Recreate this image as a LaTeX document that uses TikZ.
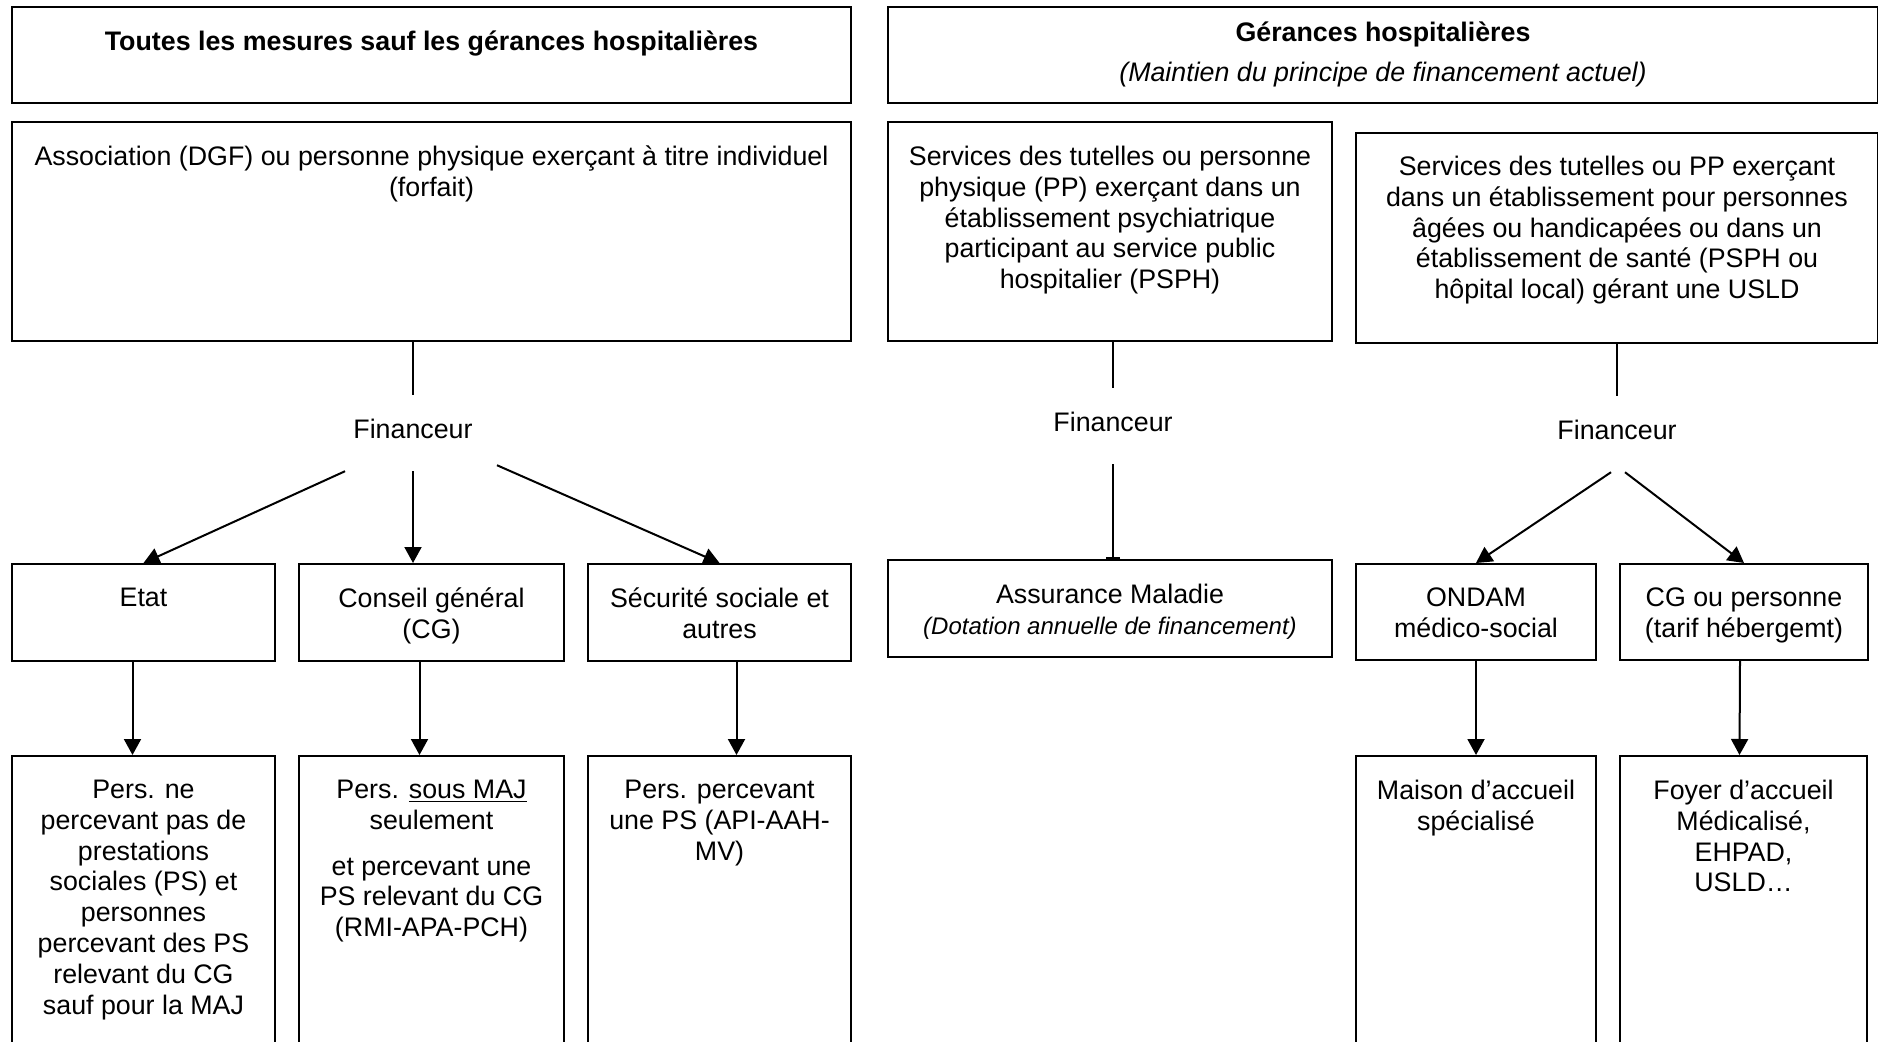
\documentclass[tikz,border=0pt]{standalone}
\usepackage{fontspec}
\setmainfont{Liberation Sans}
\usetikzlibrary{positioning,calc,arrows.meta}

% text block of a box: width, height, top padding
\newcommand{\boxtext}[4][12pt]{\parbox[c][#3][t]{#2}{\centering\vspace*{#1}#4\par}}

\tikzset{
  box/.style={draw, line width=1pt, inner sep=0pt, anchor=north west},
  fin/.style={inner xsep=4pt, inner ysep=12pt},
  link/.style={line width=1pt},
  arr/.style={line width=1pt, -{Triangle[length=8pt,width=8.5pt]}}
}

\begin{document}
\begin{tikzpicture}[x=0.5pt, y=-0.5pt, font=\fontsize{13.4}{15.4}\selectfont]
        \useasboundingbox (0,0) rectangle (1878,1042);
        \fill[white] (0,0) rectangle (1878,1042);
        \clip (0,0) rectangle (1878,1042);

        %headers
        \node[box] (hdrL) at (11,6) {\boxtext{419.5pt}{48pt}{\textbf{Toutes les mesures sauf les gérances hospitalières}}};
        \node[box] (hdrR) at (887,6) {\boxtext[7.5pt]{495pt}{48pt}{\textbf{Gérances hospitalières}\\[4.6pt]\textit{(Maintien du principe de financement actuel)}}};

        %gestionnaires
        \node[box] (assoc) at (11,121) {\boxtext{419.5pt}{109.5pt}{Association (DGF) ou personne physique exerçant à titre individuel\\(forfait)}};
        \node[box] (psph) at (887,121) {\boxtext{222pt}{109.5pt}{Services des tutelles ou personne\\physique (PP) exerçant dans un\\établissement psychiatrique\\participant au service public\\hospitalier (PSPH)}};
        \node[box] (usld) at (1355,132) {\boxtext[11.5pt]{261pt}{105pt}{Services des tutelles ou PP exerçant\\dans un établissement pour personnes\\âgées ou handicapées ou dans un\\établissement de santé (PSPH ou\\hôpital local) gérant une USLD}};

        %financeurs
        \node[fin] (finL) at (413,429) {Financeur};
        \node[fin] (finM) at (1113,422) {Financeur};
        \node[fin] (finR) at (1617,430) {Financeur};

        \node[box] (etat) at (11,563) {\boxtext{131.5pt}{48.5pt}{Etat}};
        \node[box] (cg) at (298,563) {\boxtext{132.5pt}{48.5pt}{Conseil général\\(CG)}};
        \node[box] (ss) at (587,563) {\boxtext{131.5pt}{48.5pt}{Sécurité sociale et\\autres}};
        \node[box] (assur) at (887,559) {\boxtext{222pt}{48.5pt}{Assurance Maladie\\{\fontsize{12}{15.4}\selectfont\textit{(Dotation annuelle de financement)}}}};
        \node[box] (ondam) at (1355,563) {\boxtext{120pt}{48pt}{ONDAM\\médico-social}};
        \node[box] (cgp) at (1619,563) {\boxtext{124pt}{48pt}{CG ou personne\\(tarif hébergemt)}};

        %personnes
        \node[box] (pnp) at (11,755) {\boxtext{131.5pt}{150pt}{Pers. ne\\percevant pas de\\prestations\\sociales (PS) et\\personnes\\percevant des PS\\relevant du CG\\sauf pour la MAJ}};
        \node[box] (pmaj) at (298,755) {\boxtext{132.5pt}{150pt}{Pers. \underline{sous MAJ}\\seulement\\[7.5pt] et percevant une\\PS relevant du CG\\(RMI-APA-PCH)}};
        \node[box] (pps) at (587,755) {\boxtext{131.5pt}{150pt}{Pers. percevant\\une PS (API-AAH-\\MV)}};
        \node[box] (mas) at (1355,755) {\boxtext{120pt}{150pt}{Maison d’accueil\\spécialisé}};
        \node[box] (fam) at (1619,755) {\boxtext{123.5pt}{150pt}{Foyer d’accueil\\Médicalisé,\\EHPAD,\\USLD…}};

        % left branch
        \draw[link] (assoc.south -| finL.north) -- (finL.north);
        \draw[arr] ([yshift=-4pt]finL.south west) -- (etat.north);
        \draw[arr] ([yshift=-4pt]finL.south) -- (finL.south |- cg.north);
        \draw[arr] ([xshift=8pt,yshift=-1pt]finL.south east) -- (ss.north);

        \draw[arr] ([xshift=-5.5pt]etat.south) -- ([xshift=-5.5pt]pnp.north);
        \draw[arr] ([xshift=-6pt]cg.south) -- ([xshift=-6pt]pmaj.north);
        \draw[arr] ([xshift=8.5pt]ss.south) -- ([xshift=8.5pt]pps.north);

        % middle branch
        \draw[link] (psph.south -| finM.north) -- (finM.north);
        \draw[link, -{Bar[width=7pt,line width=1.2pt]}] ([yshift=-4pt]finM.south) -- (finM.south |- assur.north);

        % right branch
        \draw[link] (usld.south -| finR.north) -- (finR.north);
        \draw[arr] ([xshift=-3pt,yshift=-4pt]finR.south) -- (ondam.north);
        \draw[arr] ([xshift=4pt,yshift=-4pt]finR.south) -- (cgp.north);

        \draw[arr] (ondam.south) -- (mas.north);
        \draw[arr] ([xshift=-2pt]cgp.south) -- ([xshift=-2pt]fam.north);

    \end{tikzpicture}
\end{document}
